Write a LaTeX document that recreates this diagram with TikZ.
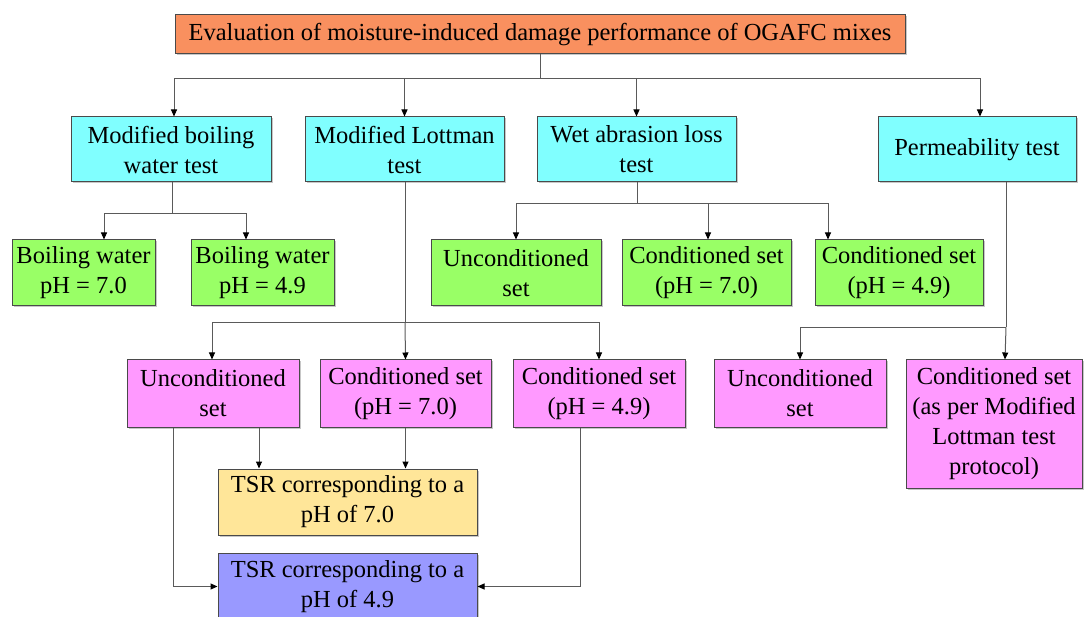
\documentclass[tikz,border=0pt]{standalone}
\usepackage{fontspec}
\setmainfont{Liberation Serif}
\usetikzlibrary{arrows.meta,calc,shadows}

\definecolor{boxorange}{HTML}{F9905F}
\definecolor{boxcyan}{HTML}{80FFFF}
\definecolor{boxgreen}{HTML}{99FF66}
\definecolor{boxpink}{HTML}{FF99FF}
\definecolor{boxyellow}{HTML}{FFE699}
\definecolor{boxblue}{HTML}{9999FF}
\definecolor{edgegray}{HTML}{4A4A4A}
\definecolor{linegray}{HTML}{5A5A5A}

\tikzset{
  box/.style={draw=edgegray, line width=1pt, align=center, inner sep=0pt,
    font=\fontsize{24.5}{30}\selectfont,
    drop shadow={shadow xshift=1.5pt, shadow yshift=-1.5pt, fill=black, opacity=0.22}},
  arr/.style={draw=linegray, line width=1pt,
    -{Triangle[length=7pt,width=6pt,fill=black,color=black]}},
  ln/.style={draw=linegray, line width=1pt},
}

\begin{document}
\begin{tikzpicture}[x=1pt,y=-1pt]
\useasboundingbox (0,0) rectangle (1084,617);

% root
\node[box, fill=boxorange, minimum width=730pt, minimum height=39pt] (top) at (540,34.5)
  {Evaluation of moisture-induced damage performance of OGAFC mixes};

% test methods
\node[box, fill=boxcyan, minimum width=200pt, minimum height=65pt] (c1) at (171,149.5) {Modified boiling\\water test};
\node[box, fill=boxcyan, minimum width=199pt, minimum height=65pt] (c2) at (404.5,149.5) {Modified Lottman\\test};
\node[box, fill=boxcyan, minimum width=199pt, minimum height=65pt] (c3) at (636.5,149.5) {Wet abrasion loss\\test};
\node[box, fill=boxcyan, minimum width=198pt, minimum height=65pt] (c4) at (977,149.5) {Permeability test};

% boiling water and abrasion sets
\node[box, fill=boxgreen, minimum width=143pt, minimum height=66pt] (g1) at (83.5,273) {Boiling water\\pH = 7.0};
\node[box, fill=boxgreen, minimum width=143pt, minimum height=66pt] (g2) at (262.5,273) {Boiling water\\pH = 4.9};
\node[box, fill=boxgreen, minimum width=170pt, minimum height=66pt] (g3) at (516,273) {Unconditioned\\set};
\node[box, fill=boxgreen, minimum width=169pt, minimum height=66pt] (g4) at (706.5,273) {Conditioned set\\(pH = 7.0)};
\node[box, fill=boxgreen, minimum width=168pt, minimum height=66pt] (g5) at (899,273) {Conditioned set\\(pH = 4.9)};

% Lottman and permeability sets
\node[box, fill=boxpink, minimum width=172pt, minimum height=67pt] (m1) at (213,393.5) {Unconditioned\\set};
\node[box, fill=boxpink, minimum width=171pt, minimum height=67pt] (m2) at (405.5,393.5) {Conditioned set\\(pH = 7.0)};
\node[box, fill=boxpink, minimum width=172pt, minimum height=67pt] (m3) at (599,393.5) {Conditioned set\\(pH = 4.9)};
\node[box, fill=boxpink, minimum width=172pt, minimum height=67pt] (m4) at (800,393.5) {Unconditioned\\set};
\node[box, fill=boxpink, minimum width=176pt, minimum height=128pt] (m5) at (994,424) {Conditioned set\\(as per Modified\\Lottman test\\protocol)};

% tensile strength ratios
\node[box, fill=boxyellow, minimum width=259pt, minimum height=66pt] (t7) at (347.5,502) {TSR corresponding to a\\pH of 7.0};
\node[box, fill=boxblue, minimum width=259pt, minimum height=67pt] (t49) at (347.5,586.5) {TSR corresponding to a\\pH of 4.9};

% root to test methods
\coordinate (b0) at ($(top.south)+(0,24)$);
\draw[ln] (top.south) -- (b0);
\draw[arr] (b0) -| ($(c1.north)+(3,0)$);
\draw[arr] (b0) -| (c2.north);
\draw[arr] (b0) -| (c3.north);
\draw[arr] (b0) -| ($(c4.north)+(3,0)$);

% boiling water test
\coordinate (b1) at ($(c1.south)+(1,31)$);
\draw[ln] ($(c1.south)+(1,0)$) -- (b1);
\draw[arr] (b1) -| ($(g1.north)+(20.5,0)$);
\draw[arr] (b1) -| ($(g2.north)+(-16.5,0)$);

% wet abrasion loss test
\coordinate (b2) at ($(c3.south)+(1,21)$);
\draw[ln] ($(c3.south)+(1,0)$) -- (b2);
\draw[arr] (b2) -| (g3.north);
\draw[arr] (b2) -| ($(g4.north)+(1.5,0)$);
\draw[arr] (b2) -| ($(g5.north)+(-71,0)$);

% Lottman test
\coordinate (b3) at ($(c2.south)+(0.5,140)$);
\draw[ln] ($(c2.south)+(0.5,0)$) -- (b3);
\draw[arr] (b3) -| ($(m1.north)+(-1,0)$);
\draw[arr] (b3) -- (m2.north);
\draw[arr] (b3) -| (m3.north);

% permeability test
\coordinate (b4) at ($(c4.south)+(29,145)$);
\draw[ln] ($(c4.south)+(29,0)$) -- (b4);
\draw[arr] (b4) -| (m4.north);
\draw[arr] (b4) -- ($(m5.north)+(11,0)$);

% sets to TSR values
\draw[arr] ($(m1.south)+(46,0)$) -- ($(t7.north)+(-88.5,0)$);
\draw[arr] (m2.south) -- ($(t7.north)+(58,0)$);
\draw[arr] ($(m1.south)+(-40,0)$) |- (t49.west);
\draw[arr] ($(m3.south)+(-19,0)$) |- (t49.east);
\end{tikzpicture}
\end{document}
